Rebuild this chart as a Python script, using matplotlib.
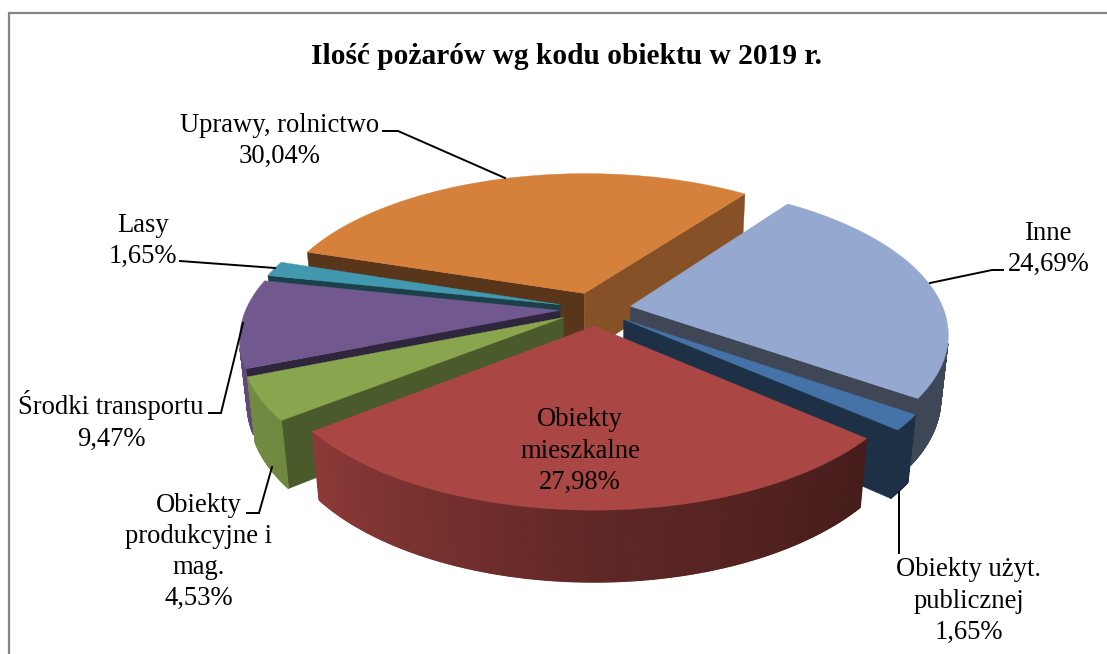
import numpy as np
import matplotlib
matplotlib.use("Agg")
import matplotlib.pyplot as plt
from matplotlib.collections import PolyCollection
from matplotlib.colors import to_rgb

categories = ["Inne", "Obiekty użyt.\npublicznej", "Obiekty\nmieszkalne",
              "Obiekty\nprodukcyjne i\nmag.", "Środki transportu", "Lasy",
              "Uprawy, rolnictwo"]
values = [24.69, 1.65, 27.98, 4.53, 9.47, 1.65, 30.04]
colors = ["#95A8CF", "#4572A7", "#AA4643", "#89A54E", "#71588F", "#4198AF", "#D5813C"]
draw_order = [6, 5, 4, 0, 3, 1, 2]

START = 36.2
R, E, H = 313.0, 0.115, 0.23
ELEV = np.radians(27.7)
D = 5.1
CX, CY = 595.0, 309.0


def project(x, y, z):
    s = D / (D + y * np.cos(ELEV) - z * np.sin(ELEV))
    return CX + R * x * s, CY - R * (y * np.sin(ELEV) + z * np.cos(ELEV)) * s


def faces_camera(nx, ny, px, py):
    cam_y = -D * np.cos(ELEV)
    return nx * (0 - px) + ny * (cam_y - py) > 0


def lit(color, f):
    return tuple(min(1, c * f) for c in to_rgb(color))


def outer_light(phi):
    return np.interp(phi % 360, [0, 90, 135, 180, 230, 270, 360], [.75, .42, .42, .56, .82, .86, .75])


def radial_light(phi):
    return np.interp(phi % 360, [0, 120, 140, 156, 220, 360], [.42, .66, .56, .42, .42, .42])


fig = plt.figure(figsize=(11.07, 6.54), dpi=100)
ax = fig.add_axes([0, 0, 1, 1])
ax.set_xlim(0, 1107)
ax.set_ylim(654, 0)
ax.axis("off")

ax.plot([8.5, 8.5, 1107], [654, 13, 13], color="#868686", lw=1.6, solid_joinstyle="miter")

fractions = np.array(values) / np.sum(values)
edges = START + 360 * np.concatenate([[0], np.cumsum(fractions)])

for k in draw_order:
    a0, a1 = edges[k], edges[k + 1]
    mid = np.radians((a0 + a1) / 2)
    ox, oy = E * np.sin(mid), E * np.cos(mid)
    th = np.radians(np.linspace(a0, a1, max(int((a1 - a0) * 4), 8)))
    ex, ey = ox + np.sin(th), oy + np.cos(th)

    for ang, normal in ((a0, a0 - 90), (a1, a1 + 90)):
        n = np.radians(normal)
        if not faces_camera(np.sin(n), np.cos(n), ox, oy):
            continue
        t = np.radians(ang)
        px = [ox, ox + np.sin(t), ox + np.sin(t), ox]
        py = [oy, oy + np.cos(t), oy + np.cos(t), oy]
        pz = [0, 0, -H, -H]
        u, v = project(np.array(px), np.array(py), np.array(pz))
        ax.fill(u, v, color=lit(colors[k], radial_light(normal)), lw=0.3)

    ut, vt = project(ex, ey, np.zeros_like(ex))
    ub, vb = project(ex, ey, np.full_like(ex, -H))
    quads, cols = [], []
    for i in range(len(th) - 1):
        tm = (th[i] + th[i + 1]) / 2
        if not faces_camera(np.sin(tm), np.cos(tm), ex[i], ey[i]):
            continue
        quads.append([(ut[i], vt[i]), (ut[i + 1], vt[i + 1]), (ub[i + 1], vb[i + 1]), (ub[i], vb[i])])
        cols.append(lit(colors[k], outer_light(np.degrees(tm))))
    if quads:
        ax.add_collection(PolyCollection(quads, facecolors=cols, edgecolors=cols, linewidths=0.8))

    u0, v0 = project(np.array([ox]), np.array([oy]), np.array([0.0]))
    ax.fill(np.r_[u0, ut], np.r_[v0, vt], color=colors[k], lw=0.3)

leaders = [
    [(383, 131), (398, 131), (505, 178)],
    [(180, 261), (275, 268)],
    [(209, 413), (221, 413), (243, 323)],
    [(247, 513), (259, 513), (272, 467)],
    [(899, 553), (899, 492)],
    [(1003, 270), (992, 270), (930, 283)],
]
for pts in leaders:
    xs, ys = zip(*pts)
    ax.plot(xs, ys, color="black", lw=1.4, solid_joinstyle="miter")

FONT = "Liberation Serif"
ax.text(566, 56, "Ilość pożarów wg kodu obiektu w 2019 r.", ha="center", va="center",
        fontsize=21.2, fontweight="bold", family=FONT)

label_pos = [(1049, 249), (969, 601), (580, 451), (199, 552), (111, 421), (143, 241), (280, 141)]
for name, val, (lx, ly) in zip(categories, values, label_pos):
    txt = name + "\n" + f"{val:.2f}".replace(".", ",") + "%"
    ax.text(lx, ly, txt, ha="center", va="center", fontsize=19.2, family=FONT, linespacing=1.33)

fig.savefig("out.png", dpi=100)
